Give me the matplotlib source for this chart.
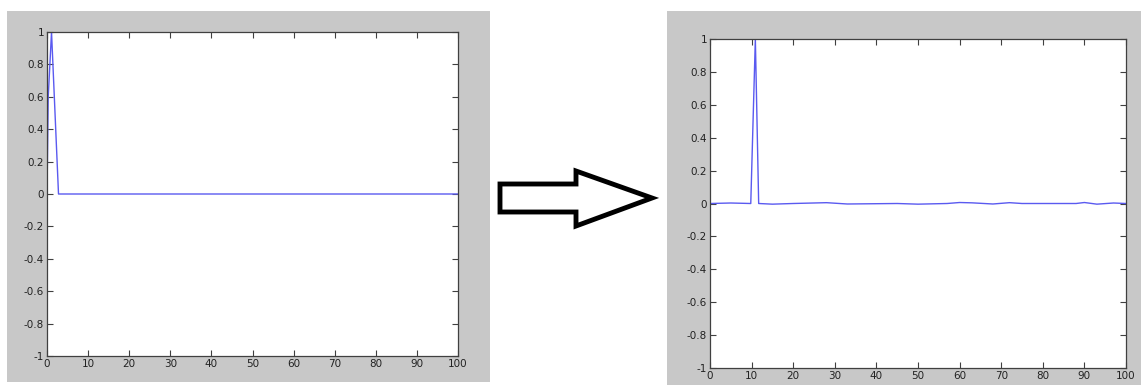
import matplotlib
matplotlib.use("Agg")
import matplotlib.pyplot as plt
from matplotlib.patches import Rectangle, Polygon

# left panel: short pulse at the start
x_left = [0, 0.3, 1.1, 2.8, 100]
y_left = [0, 0.6, 1.0, 0, 0]

# right panel: shifted pulse with slight ripple around zero
x_right = [0, 5, 9.8, 10.9, 11.7, 15, 20, 28, 33, 45, 50, 57, 60, 63, 68, 72, 75, 88, 90, 93, 97, 100]
y_right = [0, 0.003, 0.0, 1.0, 0.0, -0.004, 0.0, 0.005, -0.003, 0.0, -0.004, 0.0, 0.006, 0.004, -0.003, 0.005, 0.0, 0.0, 0.006, -0.004, 0.003, 0]

x_ticks = [0, 10, 20, 30, 40, 50, 60, 70, 80, 90, 100]
y_ticks = [-1, -0.8, -0.6, -0.4, -0.2, 0, 0.2, 0.4, 0.6, 0.8, 1]
y_labels = ["-1", "-0.8", "-0.6", "-0.4", "-0.2", "0", "0.2", "0.4", "0.6", "0.8", "1"]

W, H = 1146, 385
GRAY = "#c8c8c8"
LINE = "#5a5af0"

fig = plt.figure(figsize=(W / 100, H / 100), dpi=100)
fig.patch.set_facecolor("white")


def px_rect(x0, y0, x1, y1):
    # pixel box (top-left origin) -> figure fraction [left, bottom, width, height]
    return [x0 / W, 1 - y1 / H, (x1 - x0) / W, (y1 - y0) / H]


for box in [(7, 11, 490, 382), (667, 11, 1141, 385)]:
    l, b, w, h = px_rect(*box)
    fig.patches.append(Rectangle((l, b), w, h, transform=fig.transFigure,
                                 facecolor=GRAY, edgecolor="none", zorder=-10))


def matlab_axes(rect, xs, ys):
    ax = fig.add_axes(px_rect(*rect))
    ax.set_zorder(1)
    ax.set_facecolor("white")
    ax.plot(xs, ys, color=LINE, linewidth=1.0)
    ax.set_xlim(0, 100)
    ax.set_ylim(-1, 1)
    ax.set_xticks(x_ticks)
    ax.set_yticks(y_ticks)
    ax.set_yticklabels(y_labels)
    ax.tick_params(direction="in", length=4, width=0.8, colors="#404040",
                   labelsize=7.5, labelcolor="#222222", top=True, right=True, pad=2)
    for s in ax.spines.values():
        s.set_color("#404040")
        s.set_linewidth(0.9)
    return ax


matlab_axes((47, 32, 458, 356), x_left, y_left)
matlab_axes((710, 39, 1126, 368), x_right, y_right)

# hollow arrow between the panels
arrow_pts = [(500, 184), (576, 184), (576, 171), (652, 198), (576, 226), (576, 212), (500, 212)]
arrow_fig = [(x / W, 1 - y / H) for x, y in arrow_pts]
fig.patches.append(Polygon(arrow_fig, closed=True, transform=fig.transFigure,
                           facecolor="white", edgecolor="black", linewidth=3.5,
                           joinstyle="miter", zorder=2))

fig.savefig("out.png", dpi=100, facecolor=fig.get_facecolor())
